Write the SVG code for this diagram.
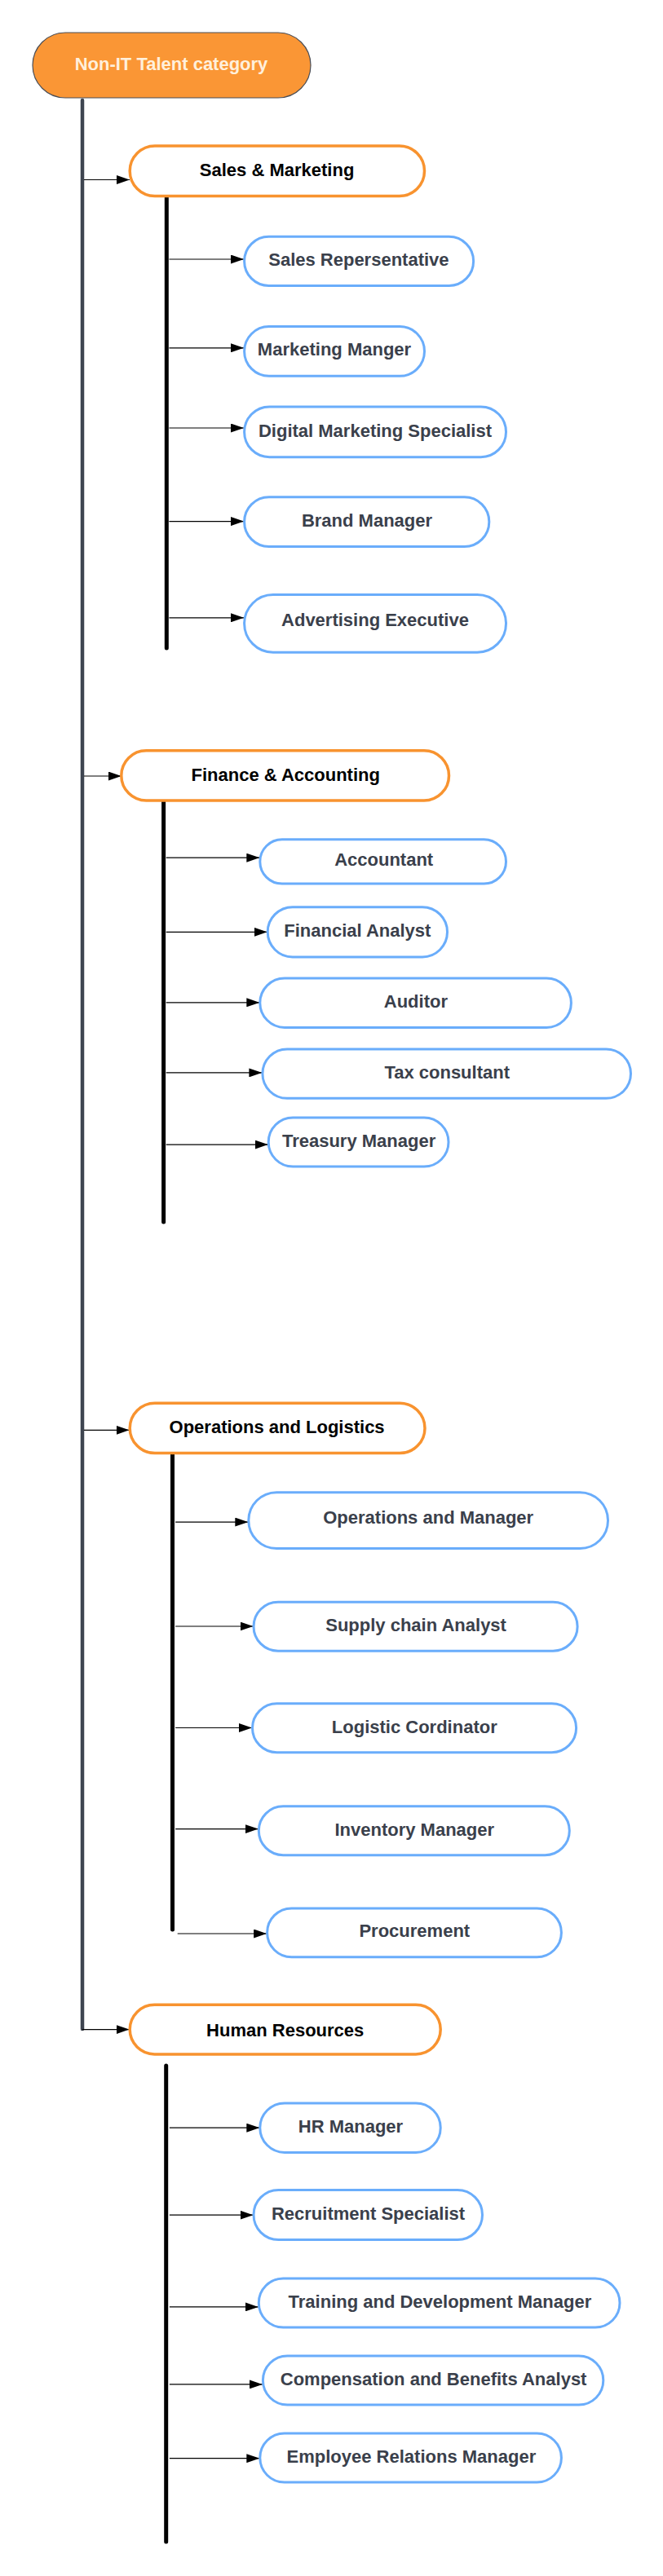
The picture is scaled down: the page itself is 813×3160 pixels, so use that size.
<svg xmlns="http://www.w3.org/2000/svg" width="813" height="3160" viewBox="0 0 813 3160">
<defs>
<marker id="ah" markerUnits="userSpaceOnUse" markerWidth="16" markerHeight="11" refX="16" refY="5.5" orient="auto">
<path d="M0,0 L16,5.5 L0,11 Z" fill="#000"/>
</marker>
<style>
.root{fill:#FA9635;stroke:#4a4d55;stroke-width:1.2}
.cat{fill:#fff;stroke:#F8932F;stroke-width:3.5}
.job{fill:#fff;stroke:#6AADFB;stroke-width:3}
text{font-family:"Liberation Sans",Arial,sans-serif;font-weight:bold;font-size:22px;text-anchor:middle}
.rt{fill:#FFF0DC}
.ct{fill:#000}
.jt{fill:#3A404B}
.trunk{stroke:#3E4550;stroke-width:4.5;stroke-linecap:round;fill:none}
.sub{stroke:#000;stroke-width:5;stroke-linecap:round;fill:none}
.arr{stroke:#000;stroke-width:1.2;fill:none;marker-end:url(#ah)}
</style>
</defs>
<rect width="813" height="3160" fill="#fff"/>

<g id="connectors">
<line class="trunk" x1="101" y1="123" x2="101" y2="2489"/>
<line class="sub" x1="204.3" y1="242" x2="204.3" y2="795"/>
<line class="sub" x1="200.6" y1="983" x2="200.6" y2="1499"/>
<line class="sub" x1="211.5" y1="1784" x2="211.5" y2="2367"/>
<line class="sub" x1="203.7" y1="2534" x2="203.7" y2="3118"/>
<path class="arr" d="M103,220.5 H159"/>
<path class="arr" d="M103,952 H148.8"/>
<path class="arr" d="M103,1754.3 H158.5"/>
<path class="arr" d="M101,2489.6 H158.5"/>
<path class="arr" d="M207.4,318 H299"/>
<path class="arr" d="M207.4,426.8 H299"/>
<path class="arr" d="M207.4,525 H299"/>
<path class="arr" d="M207.4,639.6 H299"/>
<path class="arr" d="M207.4,757.8 H299"/>
<path class="arr" d="M203.7,1052.2 H318.3"/>
<path class="arr" d="M203.7,1143.3 H327.7"/>
<path class="arr" d="M203.7,1229.8 H318.3"/>
<path class="arr" d="M203.7,1315.9 H321.4"/>
<path class="arr" d="M203.7,1404.1 H328.7"/>
<path class="arr" d="M215.1,1867.1 H304.3"/>
<path class="arr" d="M215.1,1995 H310.5"/>
<path class="arr" d="M215.1,2119.5 H309"/>
<path class="arr" d="M215.1,2243.6 H316.8"/>
<path class="arr" d="M217.7,2372 H327.1"/>
<path class="arr" d="M207.9,2610.2 H318.3"/>
<path class="arr" d="M207.9,2717.2 H310.5"/>
<path class="arr" d="M207.9,2829.9 H316.8"/>
<path class="arr" d="M207.9,2924.9 H321.9"/>
<path class="arr" d="M207.9,3015.7 H318.3"/>
</g>

<g id="root"><rect class="root" x="40" y="40" width="341" height="80" rx="40"/><text class="rt" x="210" y="85.5">Non-IT Talent category</text></g>

<g id="sales"><rect class="cat" x="159.2" y="179" width="361.3" height="61.5" rx="30.7"/><text class="ct" x="339.6" y="215.6">Sales &amp; Marketing</text></g>
<g id="sales-rep"><rect class="job" x="299.6" y="290.3" width="281" height="60.1" rx="30"/><text class="jt" x="439.9" y="326">Sales Repersentative</text></g>
<g id="marketing-manager"><rect class="job" x="299.6" y="400.6" width="220.9" height="60.7" rx="30.3"/><text class="jt" x="410" y="436">Marketing Manger</text></g>
<g id="digital-marketing"><rect class="job" x="299.6" y="499" width="320.9" height="61.7" rx="30.8"/><text class="jt" x="460" y="535.7">Digital Marketing Specialist</text></g>
<g id="brand-manager"><rect class="job" x="299.6" y="609.8" width="300.2" height="60.7" rx="30.3"/><text class="jt" x="450" y="646">Brand Manager</text></g>
<g id="advertising-exec"><rect class="job" x="299.6" y="729.6" width="320.9" height="70.6" rx="35.3"/><text class="jt" x="460" y="768">Advertising Executive</text></g>

<g id="finance"><rect class="cat" x="148.8" y="920.8" width="401.7" height="61.2" rx="30.6"/><text class="ct" x="350.2" y="958">Finance &amp; Accounting</text></g>
<g id="accountant"><rect class="job" x="318.8" y="1029.8" width="301.7" height="54.3" rx="27.1"/><text class="jt" x="470.7" y="1061.5">Accountant</text></g>
<g id="financial-analyst"><rect class="job" x="328.2" y="1112.7" width="220.3" height="61.2" rx="30.6"/><text class="jt" x="438.3" y="1149.2">Financial Analyst</text></g>
<g id="auditor"><rect class="job" x="318.8" y="1200" width="381.6" height="60.4" rx="30.2"/><text class="jt" x="509.9" y="1236.2">Auditor</text></g>
<g id="tax-consultant"><rect class="job" x="321.9" y="1286.9" width="451.6" height="60.4" rx="30.2"/><text class="jt" x="548.2" y="1322.7">Tax consultant</text></g>
<g id="treasury-manager"><rect class="job" x="329.2" y="1371" width="220.8" height="60" rx="30"/><text class="jt" x="440.1" y="1407.2">Treasury Manager</text></g>

<g id="operations"><rect class="cat" x="159.2" y="1721.2" width="361.8" height="61.4" rx="30.7"/><text class="ct" x="339.6" y="1757.6">Operations and Logistics</text></g>
<g id="ops-manager"><rect class="job" x="304.8" y="1830.7" width="440.7" height="68.9" rx="34.4"/><text class="jt" x="525.2" y="1869.4">Operations and Manager</text></g>
<g id="supply-chain"><rect class="job" x="311" y="1965.2" width="397.1" height="60" rx="30"/><text class="jt" x="510.1" y="2000.6">Supply chain Analyst</text></g>
<g id="logistic-coordinator"><rect class="job" x="309.5" y="2089.8" width="397.1" height="59.9" rx="30"/><text class="jt" x="508.3" y="2125.6">Logistic Cordinator</text></g>
<g id="inventory-manager"><rect class="job" x="317.3" y="2215.8" width="381" height="59.9" rx="30"/><text class="jt" x="508.3" y="2251.6">Inventory Manager</text></g>
<g id="procurement"><rect class="job" x="327.6" y="2340.9" width="360.8" height="59.9" rx="30"/><text class="jt" x="508.3" y="2376.2">Procurement</text></g>

<g id="hr"><rect class="cat" x="159.2" y="2459.3" width="381" height="60.6" rx="30.3"/><text class="ct" x="349.7" y="2497.6">Human Resources</text></g>
<g id="hr-manager"><rect class="job" x="318.8" y="2579.9" width="221.4" height="60.5" rx="30.2"/><text class="jt" x="430" y="2615.8">HR Manager</text></g>
<g id="recruitment"><rect class="job" x="311" y="2686.5" width="280.5" height="61" rx="30.5"/><text class="jt" x="451.5" y="2722.9">Recruitment Specialist</text></g>
<g id="training"><rect class="job" x="317.3" y="2795" width="442.7" height="60" rx="30"/><text class="jt" x="539.4" y="2831.4">Training and Development Manager</text></g>
<g id="compensation"><rect class="job" x="322.4" y="2890" width="417.4" height="60" rx="30"/><text class="jt" x="531.6" y="2925.9">Compensation and Benefits Analyst</text></g>
<g id="employee-relations"><rect class="job" x="318.8" y="2985" width="369.6" height="60" rx="30"/><text class="jt" x="504.4" y="3020.9">Employee Relations Manager</text></g>
</svg>
